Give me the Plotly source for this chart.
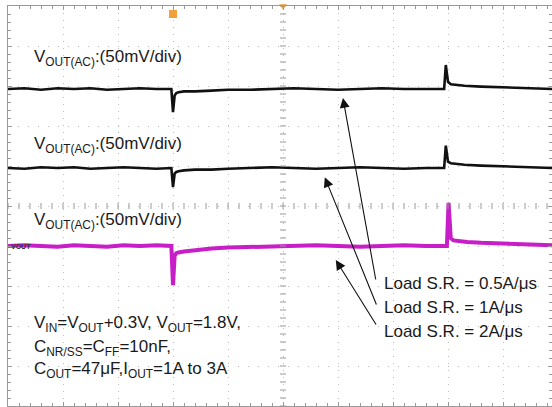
import plotly.graph_objects as go

# ---------------- data (time in screen divisions, voltage deviation in mV) ----------------
t_ch1 = [0.0, 0.3, 0.6, 0.9, 1.2, 1.5, 1.8, 2.1, 2.4, 2.7, 2.97, 3.0, 3.03, 3.06, 3.1, 3.2, 3.4, 3.7,
         4.0, 4.4, 4.8, 5.2, 5.6, 6.0, 6.4, 6.8, 7.2, 7.6, 7.9, 7.93, 7.96, 8.0, 8.05, 8.15, 8.3, 8.6,
         9.0, 9.4, 9.9]
v_ch1 = [0, 1, -1, 1, 0, 1, -1, 0, 1, 0, 0, -29, -8, -5, -4, -3, -3, -2,
         -1, -1, 0, 1, 0, -1, 0, 1, 0, 0, 0, 0, 30, 9, 6, 5, 4, 3,
         2, 1, 0]

t_ch2 = [0.0, 0.3, 0.6, 0.9, 1.2, 1.5, 1.8, 2.1, 2.4, 2.7, 2.97, 3.0, 3.03, 3.06, 3.1, 3.2, 3.4, 3.7,
         4.0, 4.4, 4.8, 5.2, 5.6, 6.0, 6.4, 6.8, 7.2, 7.6, 7.9, 7.93, 7.96, 8.0, 8.05, 8.15, 8.3, 8.6,
         9.0, 9.4, 9.9]
v_ch2 = [0, -1, 1, 0, 1, -1, 0, 1, 0, -1, 0, -24, -7, -5, -4, -3, -2, -2,
         -1, 0, 1, 0, -1, 0, 1, 0, -1, 0, 0, 0, 28, 8, 6, 5, 4, 3,
         2, 1, 0]

t_ch3 = [0.0, 0.3, 0.6, 0.9, 1.2, 1.5, 1.8, 2.1, 2.4, 2.7, 2.97, 3.0, 3.03, 3.06, 3.1, 3.2, 3.4, 3.7,
         4.0, 4.4, 4.8, 5.2, 5.6, 6.0, 6.4, 6.8, 7.2, 7.6, 7.95, 7.98, 8.01, 8.05, 8.1, 8.2, 8.35, 8.6,
         9.0, 9.4, 9.9]
v_ch3 = [0, 1, 0, -1, 1, 0, -1, 1, 0, 1, 0, -49, -12, -9, -8, -7, -5, -3,
         -2, -1, -1, 0, 1, 0, -1, 0, 1, 0, 0, 0, 54, 10, 7, 6, 5, 4,
         3, 2, 1]

trigger_time = 3.0          # trigger position (div)
mv_per_div = 50

labels_ch = ["V<sub>OUT(AC)</sub>:(50mV/div)"] * 3
cond_lines = ["V<sub>IN</sub>=V<sub>OUT</sub>+0.3V, V<sub>OUT</sub>=1.8V,",
              "C<sub>NR/SS</sub>=C<sub>FF</sub>=10nF,",
              "C<sub>OUT</sub>=47μF,I<sub>OUT</sub>=1A to 3A"]
sr_lines = ["Load S.R. = 0.5A/μs", "Load S.R. = 1A/μs", "Load S.R. = 2A/μs"]

# ---------------- layout constants ----------------
W, H = 552, 407
ML, MT, MB = 8, 6, 1
DIV_X = 55.0
X_MAX = (W - ML) / DIV_X
ch_offset = [2.925, 0.95, -1.0]        # baseline position of each channel (div)
ch_color = ["#111111", "#111111", "#c81ec8"]
ch_width = [2.6, 2.6, 4.0]
FONT = "Liberation Sans, Arial, sans-serif"
FS = 17
GRID = "#bdbdbd"
BORDER = "#999999"

fig = go.Figure()
for t, v, off, col, wd in zip([t_ch1, t_ch2, t_ch3], [v_ch1, v_ch2, v_ch3], ch_offset, ch_color, ch_width):
    fig.add_trace(go.Scatter(x=t, y=[off + val / mv_per_div for val in v], mode="lines",
                             line=dict(color=col, width=wd), hoverinfo="skip", showlegend=False))

# trigger marker and horizontal position marker
fig.add_trace(go.Scatter(x=[trigger_time], y=[4.8], mode="markers",
                         marker=dict(symbol="square", size=8, color="#f2a03a"),
                         showlegend=False, hoverinfo="skip", cliponaxis=False))
fig.add_trace(go.Scatter(x=[5.0], y=[5.0], mode="markers",
                         marker=dict(symbol="triangle-down", size=7, color="#f2a03a"),
                         showlegend=False, hoverinfo="skip", cliponaxis=False))

XR = [0, X_MAX]
YR = [-5, 5]
fig.update_layout(
    width=W, height=H,
    margin=dict(l=ML, r=0, t=MT, b=MB, autoexpand=False),
    paper_bgcolor="white", plot_bgcolor="white",
    xaxis=dict(range=XR, tick0=0, dtick=1, showgrid=True, gridcolor=GRID,
               griddash="1px,6px", gridwidth=1, showline=True, linecolor=BORDER, linewidth=1,
               mirror="allticks", ticks="inside", ticklen=4, tickcolor=BORDER,
               showticklabels=False, zeroline=False,
               minor=dict(dtick=0.2, tick0=0, ticks="inside", ticklen=3, tickcolor=BORDER)),
    yaxis=dict(range=YR, tick0=0, dtick=1, showgrid=True, gridcolor=GRID,
               griddash="1px,9px", gridwidth=1, showline=True, linecolor=BORDER, linewidth=1,
               mirror="allticks", ticks="inside", ticklen=4, tickcolor=BORDER,
               showticklabels=False, zeroline=False,
               minor=dict(dtick=0.2, tick0=0, ticks="inside", ticklen=3, tickcolor=BORDER)),
)

# centre graticule tick marks (1/5 division)
shapes = []
cx, cy = 5.0, 0.0
hx = 3 / DIV_X
hy = 3 / 40.0
k = 0
while k * 0.2 <= X_MAX + 1e-9:
    xv = k * 0.2
    shapes.append(dict(type="line", xref="x", yref="y", x0=xv, x1=xv, y0=cy - hy, y1=cy + hy,
                       line=dict(color=BORDER, width=1)))
    k += 1
k = 0
while -5 + k * 0.2 <= 5 + 1e-9:
    yv = -5 + k * 0.2
    shapes.append(dict(type="line", xref="x", yref="y", x0=cx - hx, x1=cx + hx, y0=yv, y1=yv,
                       line=dict(color=BORDER, width=1)))
    k += 1
fig.update_layout(shapes=shapes)

ann = []
label_y = [3.71, 1.52, -0.38]
for txt, yv in zip(labels_ch, label_y):
    ann.append(dict(x=0.436, y=yv, xref="x", yref="y", text=txt, showarrow=False,
                    xanchor="left", yanchor="middle", font=dict(family=FONT, size=FS, color="#1a1a1a")))
for txt, yv in zip(cond_lines, [-2.96, -3.54, -4.11]):
    ann.append(dict(x=0.436, y=yv, xref="x", yref="y", text=txt, showarrow=False,
                    xanchor="left", yanchor="middle", font=dict(family=FONT, size=FS, color="#1a1a1a")))
for txt, yv in zip(sr_lines, [-1.94, -2.54, -3.14]):
    ann.append(dict(x=6.8, y=yv, xref="x", yref="y", text=txt, showarrow=False,
                    xanchor="left", yanchor="middle", font=dict(family=FONT, size=FS, color="#1a1a1a")))
# arrows (tail near text -> tip on trace)
arrows = [((6.691, -1.875), (6.09, 2.70)),
          ((6.709, -2.50), (5.76, 0.72)),
          ((6.709, -3.00), (5.96, -1.35))]
for (tx, ty), (hxx, hyy) in arrows:
    ann.append(dict(x=hxx, y=hyy, ax=tx, ay=ty, xref="x", yref="y", axref="x", ayref="y", text="",
                    showarrow=True, arrowhead=2, arrowsize=1.8, arrowwidth=1.1, arrowcolor="#111111",
                    standoff=0, startstandoff=0))
ann.append(dict(x=0.02, y=ch_offset[2], xref="x", yref="y", text="<b>VOUT</b>", showarrow=False,
                xanchor="left", yanchor="middle", font=dict(family="Liberation Sans, Arial", size=7,
                                                            color="#333333")))
fig.update_layout(annotations=ann)

fig.write_html("out.html", config={"displayModeBar": False},
               post_script="document.body.style.margin='0px';")
